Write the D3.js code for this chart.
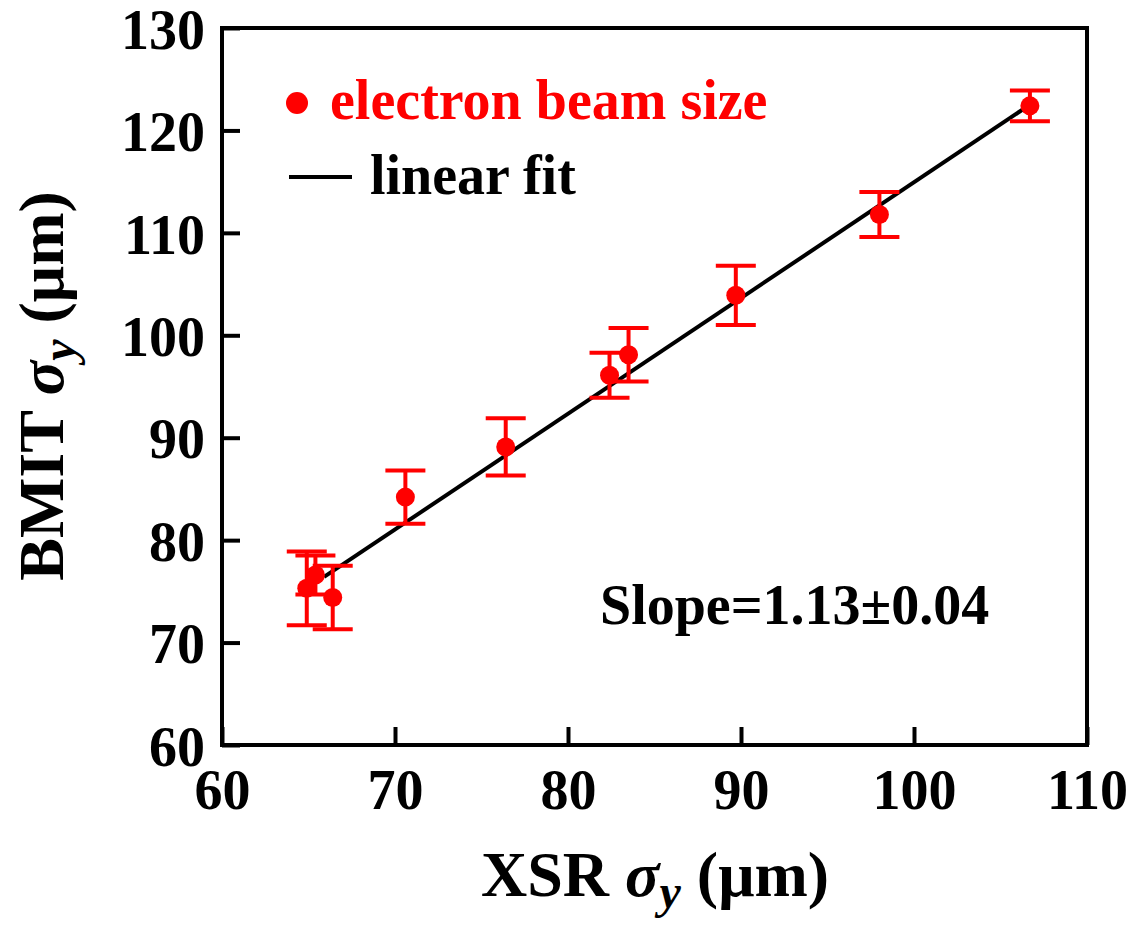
<!DOCTYPE html>
<html>
<head>
<meta charset="utf-8">
<script src="https://cdn.jsdelivr.net/npm/d3@7"></script>
<style>
  html, body { margin: 0; padding: 0; background: #fff; }
  svg { display: block; font-family: "Liberation Serif", "Times New Roman", serif; font-weight: bold; }
</style>
</head>
<body>
<svg id="chart" width="1133" height="926"></svg>
<script>
// XSR vs BMIT vertical beam size measurements (µm)
const xsrSigma  = [64.9, 65.4, 66.4, 70.6, 76.4, 82.4, 83.5, 89.7, 98.0, 106.7];
const bmitSigma = [75.3, 76.6, 74.4, 84.2, 89.1, 96.1, 98.1, 103.9, 111.8, 122.4];
const bmitError = [3.6, 1.9, 3.1, 2.6, 2.8, 2.2, 2.6, 2.9, 2.2, 1.5];

// Linear fit parameters
const fitSlope = 1.13;
const fitIntercept = 1.94;
const fitRange = [65.9, 106.6];

const xTicks = [60, 70, 80, 90, 100, 110];
const yTicks = [60, 70, 80, 90, 100, 110, 120, 130];

const svg = d3.select("#chart");
const plotLeft = 222, plotRight = 1087, plotTop = 28, plotBottom = 745;
const red = "#ff0000";
const labelSize = 56, titleSize = 64;

const x = d3.scaleLinear().domain([60, 110]).range([plotLeft, plotRight]);
const y = d3.scaleLinear().domain([60, 130]).range([plotBottom, plotTop]);

// Axes with inward ticks
const tickLen = 18;
const xAxis = svg.append("g").attr("transform", `translate(0,${plotBottom})`)
  .call(d3.axisBottom(x).tickValues(xTicks).tickSizeInner(-tickLen).tickSizeOuter(0).tickPadding(tickLen + 46));
const yAxis = svg.append("g").attr("transform", `translate(${plotLeft},0)`)
  .call(d3.axisLeft(y).tickValues(yTicks).tickSizeInner(-tickLen).tickSizeOuter(0).tickPadding(17));
[xAxis, yAxis].forEach(g => {
  g.select(".domain").remove();
  g.selectAll(".tick line").attr("stroke", "#000").attr("stroke-width", 4);
  g.selectAll(".tick text").attr("fill", "#000").attr("font-size", labelSize)
    .attr("font-family", "Liberation Serif, serif").attr("font-weight", "bold");
});
yAxis.selectAll(".tick text").attr("dy", "0.36em");
xAxis.selectAll(".tick text").attr("dy", "0");

// Frame
svg.append("rect").attr("x", plotLeft).attr("y", plotTop)
  .attr("width", plotRight - plotLeft).attr("height", plotBottom - plotTop)
  .attr("fill", "none").attr("stroke", "#000").attr("stroke-width", 4);

// Fit line
svg.append("line")
  .attr("x1", x(fitRange[0])).attr("y1", y(fitSlope * fitRange[0] + fitIntercept))
  .attr("x2", x(fitRange[1])).attr("y2", y(fitSlope * fitRange[1] + fitIntercept))
  .attr("stroke", "#000").attr("stroke-width", 4);

// Error bars and points
const pts = xsrSigma.map((v, i) => ({ x: v, y: bmitSigma[i], e: bmitError[i] }));
const capHalf = 20;
const eb = svg.append("g").attr("stroke", red).attr("stroke-width", 4);
pts.forEach(d => {
  eb.append("line").attr("x1", x(d.x)).attr("x2", x(d.x))
    .attr("y1", y(d.y - d.e)).attr("y2", y(d.y + d.e));
  [d.y - d.e, d.y + d.e].forEach(v => {
    eb.append("line").attr("x1", x(d.x) - capHalf).attr("x2", x(d.x) + capHalf)
      .attr("y1", y(v)).attr("y2", y(v));
  });
});
svg.append("g").selectAll("circle").data(pts).join("circle")
  .attr("cx", d => x(d.x)).attr("cy", d => y(d.y)).attr("r", 9.5).attr("fill", red);

// Legend
svg.append("circle").attr("cx", 297).attr("cy", 103).attr("r", 11).attr("fill", red);
svg.append("text").attr("x", 330).attr("y", 119).attr("font-size", labelSize).attr("fill", red)
  .text("electron beam size");
svg.append("line").attr("x1", 289).attr("x2", 352).attr("y1", 177).attr("y2", 177)
  .attr("stroke", "#000").attr("stroke-width", 4);
svg.append("text").attr("x", 370).attr("y", 194).attr("font-size", labelSize).attr("fill", "#000")
  .text("linear fit");

// Slope annotation
svg.append("text").attr("x", 600).attr("y", 624).attr("font-size", labelSize).attr("fill", "#000")
  .text("Slope=1.13\u00b10.04");

// Axis titles with sigma_y
function title(sel, prefix) {
  sel.append("tspan").text(prefix + " ");
  sel.append("tspan").attr("font-style", "italic").text("\u03c3");
  sel.append("tspan").attr("font-style", "italic").attr("font-size", "0.75em").attr("dy", "0.25em").text("y");
  sel.append("tspan").attr("dy", "-0.19em").text(" (\u03bcm)");
}
const xt = svg.append("text").attr("x", 655).attr("y", 896).attr("text-anchor", "middle")
  .attr("font-size", titleSize).attr("fill", "#000");
title(xt, "XSR");
const yt = svg.append("text").attr("transform", "translate(63,386) rotate(-90)")
  .attr("text-anchor", "middle").attr("font-size", titleSize).attr("fill", "#000");
title(yt, "BMIT");
</script>
</body>
</html>
